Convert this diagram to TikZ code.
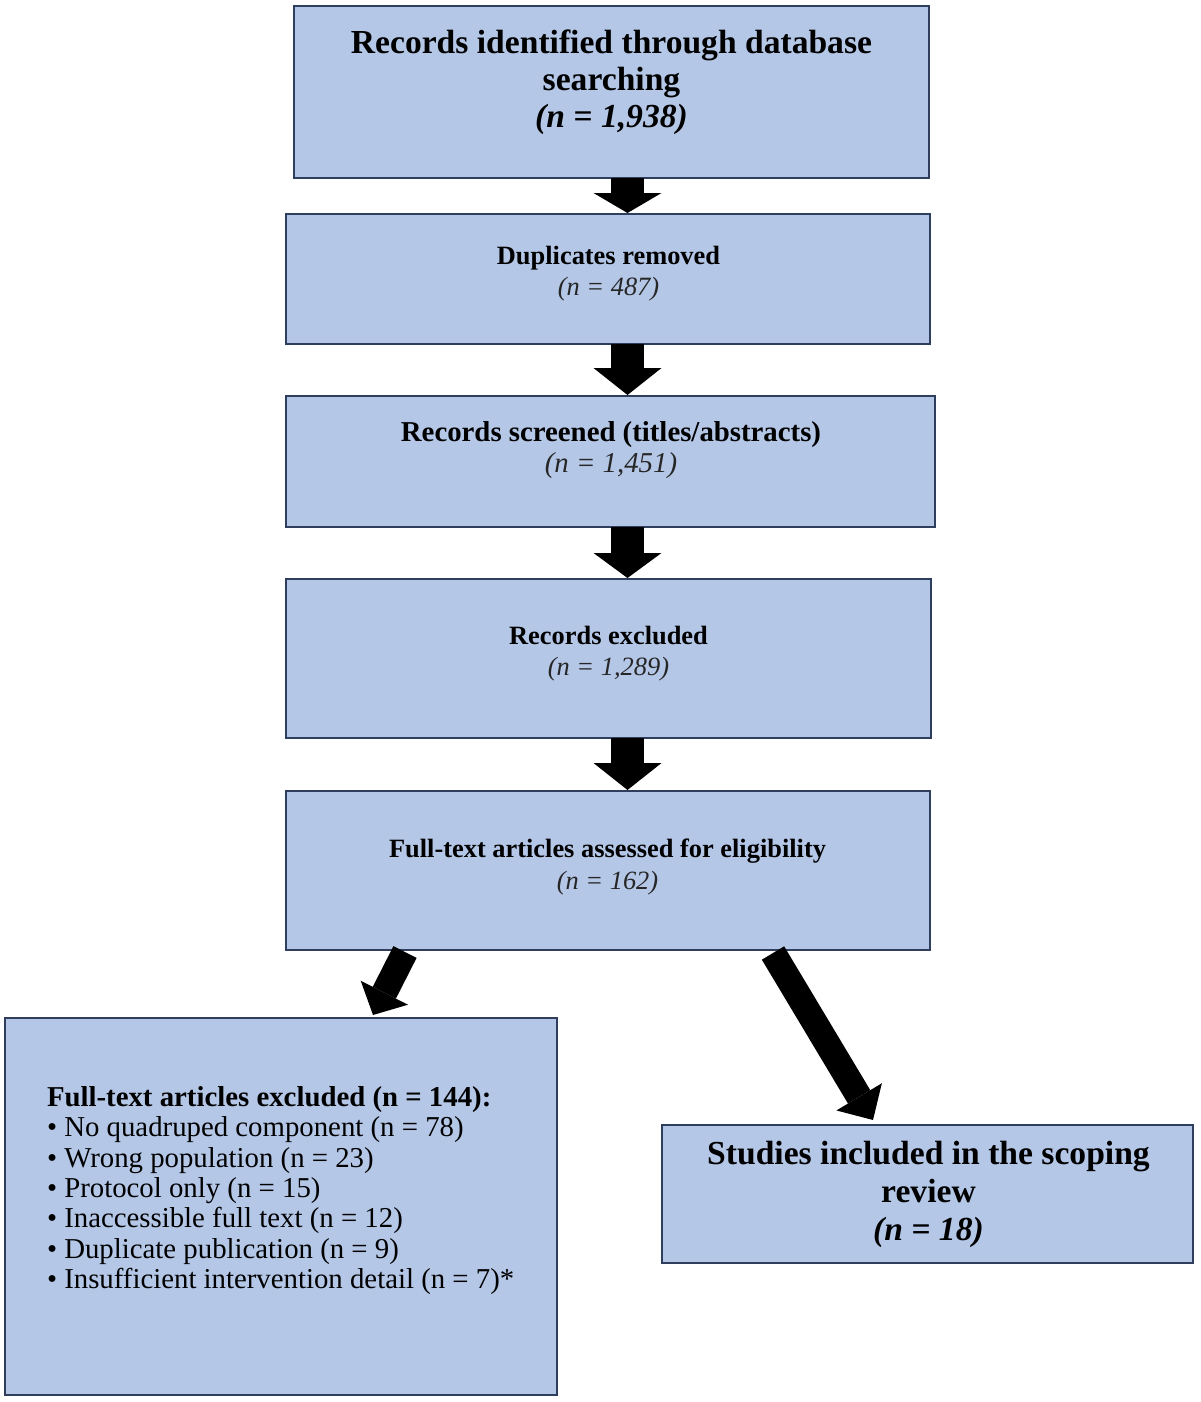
\documentclass[tikz,border=0pt]{standalone}
\usepackage{fontspec}
\setmainfont{Liberation Serif}
\usetikzlibrary{arrows.meta,calc}
\definecolor{boxfill}{HTML}{B4C7E7}
\definecolor{boxline}{HTML}{2F3E5C}
\definecolor{subtxt}{HTML}{262626}
\begin{document}
\begin{tikzpicture}[x=0.5pt,y=-0.5pt,
  box/.style={draw=boxline, fill=boxfill, line width=1pt, inner sep=0pt, outer sep=0pt},
  lbl/.style={inner sep=0pt, outer sep=0pt, align=center, text=black},
  bigtxt/.style={font=\fontsize{16.8}{18.5}\selectfont\bfseries},
  midtxt/.style={font=\fontsize{13.2}{15.5}\selectfont\bfseries},
  varrow/.style={draw=black, line width=16.5pt, -{Triangle[width=34pt,length=#1,line width=0pt]}},
  darrow/.style={draw=black, line width=13pt, -{Triangle[width=26.5pt,length=#1,line width=0pt]}}
]
\useasboundingbox (0,0) rectangle (1200,1402);

% boxes
\node[box, minimum width=317.5pt, minimum height=86pt] (b1) at (611.5,92) {};
\node[box, minimum width=322pt, minimum height=65pt] (b2) at (608,279) {};
\node[box, minimum width=324.5pt, minimum height=65.5pt] (b3) at (610.5,461.5) {};
\node[box, minimum width=322.5pt, minimum height=79.5pt] (b4) at (608.5,658.5) {};
\node[box, minimum width=322pt, minimum height=79.5pt] (b5) at (608,870.5) {};
\node[box, minimum width=276pt, minimum height=188.5pt] (b6) at (281,1206.5) {};
\node[box, minimum width=265.5pt, minimum height=69pt] (b7) at (927.5,1194) {};

% texts
\node[lbl, bigtxt] (t1) at (611.5,82.5) {Records identified through database\\searching\\\textit{(n = 1,938)}};
\node[lbl, midtxt] (t2) at (608.5,274) {Duplicates removed\\\textcolor{subtxt}{\mdseries\itshape (n = 487)}};
\node[lbl, font=\fontsize{14.4}{15.2}\selectfont\bfseries] (t3) at (611,450) {Records screened (titles/abstracts)\\\textcolor{subtxt}{\mdseries\itshape (n = 1,451)}};
\node[lbl, midtxt] (t4) at (608.5,653.5) {Records excluded\\\textcolor{subtxt}{\mdseries\itshape (n = 1,289)}};
\node[lbl, font=\fontsize{13.2}{16}\selectfont\bfseries] (t5) at (607.5,867) {Full-text articles assessed for eligibility\\\textcolor{subtxt}{\mdseries\itshape (n = 162)}};
\node[lbl, align=left, anchor=west, font=\fontsize{14.4}{15.15}\selectfont] (t6) at (47,1190.5) {\textbf{Full-text articles excluded (n = 144):}\\
• No quadruped component (n = 78)\\
• Wrong population (n = 23)\\
• Protocol only (n = 15)\\
• Inaccessible full text (n = 12)\\
• Duplicate publication (n = 9)\\
• Insufficient intervention detail (n = 7)*};
\node[lbl, bigtxt, font=\fontsize{16.8}{19}\selectfont\bfseries] (t7) at (928.5,1194) {Studies included in the scoping\\review\\\textit{(n = 18)}};

% arrows
\draw[varrow=10pt] ($(b1.south)+(16,0)$) -- ($(b2.north)+(19.5,-1)$);
\draw[varrow=13.5pt] ($(b2.south)+(19.5,0)$) -- ($(b3.north)+(17,-1)$);
\draw[varrow=12.5pt] ($(b3.south)+(17,0)$) -- ($(b4.north)+(19,-1)$);
\draw[varrow=13.5pt] ($(b4.south)+(19,0)$) -- ($(b5.north)+(19.5,-1)$);
\draw[darrow=12.5pt] ($(b5.south)+(-203,2)$) -- ($(b6.north)+(92,-3)$);
\draw[darrow=13.5pt] ($(b5.south)+(165,3)$) -- ($(b7.north)+(-54.5,-5)$);
\end{tikzpicture}
\end{document}
